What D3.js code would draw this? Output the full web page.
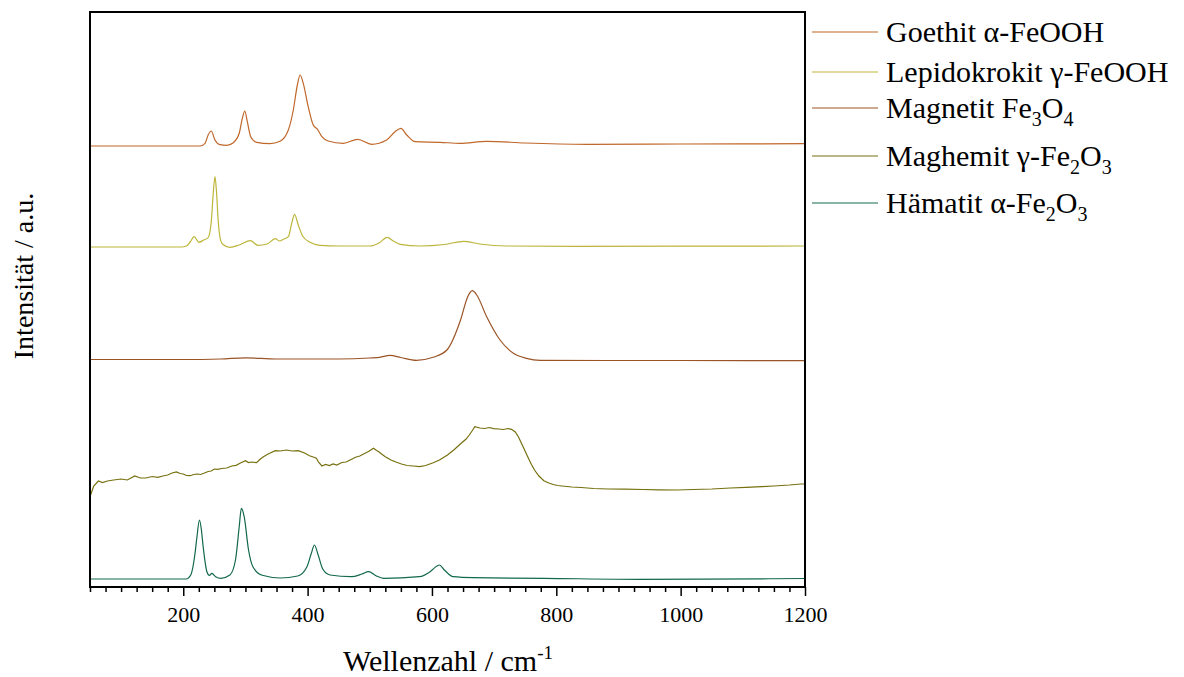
<!DOCTYPE html>
<html>
<head>
<meta charset="utf-8">
<script src="https://cdn.jsdelivr.net/npm/d3@7"></script>
<style>
  body { margin:0; background:#fff; }
  svg, svg text { font-family:"Liberation Serif","Tinos","DejaVu Serif",serif !important; fill:#000; }
</style>
</head>
<body>
<svg id="chart" width="1184" height="677" font-family="Liberation Serif, Tinos, DejaVu Serif, serif"></svg>
<script>
// wavenumber (cm-1), intensity (a.u., stacked offsets as in the plot)
var goethit=[[50,441],[227,441],[235,443.7],[240,452],[245,456],[251,447],[259,442.3],[270,441.7],[280.5,444.3],[290,453.7],[295,468.7],[299,476],[303,465.3],[308.5,450.3],[318,444.7],[339.5,443.3],[355.6,445.7],[369,457],[377,477],[383.5,502],[388,512],[393,503.7],[401,480.3],[409,462],[416,457.7],[423,450.3],[433,446],[457.5,443.7],[480.6,447.7],[503,442.7],[527,447],[540.6,455.3],[550,458.7],[559.5,452],[573,445.3],[613,444.7],[645,443.7],[688,445.7],[750,444],[849,442.7],[1000,443],[1200,443.3]]
var lepidokrokit=[[50,340],[197,340],[205,341],[211,345],[217.6,350.3],[225,344.7],[233,347],[240,349.3],[245,365],[248,392],[251,410.3],[253.5,395],[256,368],[259,350],[263,343],[275,339.7],[290,342],[308,346.3],[320,341.7],[335,343],[348,348.3],[355,346],[361,347.7],[369,350.3],[374.4,363.7],[379,372.7],[385,362],[392,351],[404,344.7],[420,341.7],[450,341],[500,341],[515,344],[528,349.7],[538,346],[549,342.7],[580,341],[620,342.5],[651,345.7],[677,343],[720,341],[838,340.7],[1000,340.8],[1200,341]]
var magnetit=[[50,227.5],[200,227.5],[260,228],[300,229.2],[350,228],[450,228],[500,229],[516,229.7],[532.5,231.7],[550,229.5],[575,226.7],[602,229.7],[624,237],[646,267],[657.5,290.3],[665,296.3],[672,292],[688,270.3],[709.5,247],[731,233.7],[752,228.7],[774,226.7],[900,226.5],[1000,226.5],[1200,226.3]]
var maghemit=[[50,90.3],[56,101],[63.5,106],[70,104.5],[78,106],[88,107],[100,108],[110,107],[122,111],[131,109],[140,109],[150,110.5],[159,109.7],[167,111],[175,112],[182,114],[189,115],[195,113.5],[200,113],[205,111.5],[211,111.3],[217,112.5],[222,113],[228,112.5],[233,113.7],[240,115.5],[245,116],[250,118],[255,117.7],[262,118.5],[270,119],[278,121],[285,121.7],[292,124],[300,126.3],[305,124.5],[310,125],[318,124.3],[324,128],[329,130.3],[335,132.5],[340,134],[348,136.3],[356,136],[366,137],[375,136],[385,136.3],[395,134],[403,131.3],[409,130],[414,128.7],[418,124.5],[423,121],[429,122.5],[435,121.5],[441,123],[447,122],[455,124.5],[462,125],[470,127.5],[477,129.7],[484,131],[490,133],[498,135.5],[506,138.7],[511,136.5],[515,135],[520,132.5],[525,130.3],[534,127],[543,124.7],[551,123],[560,121.5],[570,121],[580,120.3],[590,121.5],[602,124.3],[612,127],[625,132],[636,137.5],[647,143.7],[655,148],[660,152],[665,156.5],[669,160.3],[677,159],[685,158.5],[692,159.5],[699,158.3],[707,158],[715,157.5],[722,158.5],[728,157.7],[734,155],[739,150.3],[746,141],[754,130.3],[760,122.5],[765,117],[772,111],[780,106.3],[788,104],[795,102.5],[802,101.5],[809,101],[825,100],[840,99.5],[860,98.5],[883,98],[910,97.8],[940,97.5],[965,97.2],[994,97],[1020,97.5],[1050,98],[1080,99],[1105,99.7],[1130,100.3],[1150,101],[1175,102],[1193,103],[1200,103]]
var haematit=[[50,8],[204.5,8],[212,12],[219,34],[222,50],[226,67],[229,58],[232,40.3],[238,15.3],[242,11.7],[246,13.7],[252,10.3],[260.5,8.7],[275,12],[284,27],[290,60.3],[293.5,78.7],[298,70.3],[305,37],[312,20.3],[327,11.7],[356,9],[384,11],[399,20.3],[406,33.7],[411,42],[417,32],[424.6,17.7],[436,12],[470.5,10.3],[487.5,13],[498,15.3],[510.7,11],[522,8.7],[579.7,10.3],[597,15.3],[608,21],[612,22],[620,17],[634,10.3],[666,9.3],[780,8.7],[935,7.7],[1200,8.5]]

var seriesNames=["Goethit α-FeOOH","Lepidokrokit γ-FeOOH","Magnetit Fe_3O_4","Maghemit γ-Fe_2O_3","Hämatit α-Fe_2O_3"]
var seriesData=[goethit,lepidokrokit,magnetit,maghemit,haematit]
var seriesColors=["#c0672a","#bdb53a","#9b5426","#76700e","#12684c"]
var majorTicks=[200,400,600,800,1000,1200]

var FONT='"Liberation Serif", Tinos, "DejaVu Serif", serif'
var svg=d3.select("#chart")
var margin={left:90,right:379,top:12,bottom:90}
var W=1184,H=677
var x=d3.scaleLinear().domain([50,1200]).range([margin.left,W-margin.right])
var y=d3.scaleLinear().domain([0,575]).range([H-margin.bottom,margin.top])

// minor ticks every 25
var minor=d3.range(50,1201,25).filter(d=>d%200!=0)
svg.append('g')
    .attr('transform',`translate(0,${H-margin.bottom})`)
    .call(d3.axisBottom(x).tickValues(minor).tickSize(5).tickFormat(''))
    .call(g=>g.select('.domain').remove())
    .selectAll('line').attr('stroke','#000').attr('stroke-width',1.5)

var xAxis=svg.append('g')
    .attr('transform',`translate(0,${H-margin.bottom})`)
    .call(d3.axisBottom(x).tickValues(majorTicks).tickSize(9).tickPadding(10).tickSizeOuter(0).tickFormat(d3.format('d')))
xAxis.attr('font-family',FONT).attr('font-size',22)
xAxis.select('.domain').remove()
xAxis.selectAll('line').attr('stroke','#000').attr('stroke-width',1.5)
xAxis.selectAll('text').style('font-family',FONT).attr('font-size',22).attr('fill','#000')

var line=d3.line().x(d=>x(d[0])).y(d=>y(d[1]))
svg.append('g').selectAll('path')
    .data(seriesData)
    .join('path')
    .attr('d',(d,i)=>line.curve(i==3?d3.curveLinear:d3.curveMonotoneX)(d))
    .attr('fill','none')
    .attr('stroke',(d,i)=>seriesColors[i])
    .attr('stroke-width',1.2)

// frame
svg.append('rect')
    .attr('x',margin.left).attr('y',margin.top)
    .attr('width',W-margin.right-margin.left)
    .attr('height',H-margin.bottom-margin.top)
    .attr('fill','none').attr('stroke','#000').attr('stroke-width',2)

// axis titles
svg.append('text')
    .attr('transform','translate(33,276) rotate(-90)')
    .attr('text-anchor','middle')
    .style('font-family',FONT)
    .attr('font-size',28)
    .text('Intensität / a.u.')
var xt=svg.append('text')
    .attr('x',448).attr('y',671)
    .attr('text-anchor','middle')
    .style('font-family',FONT)
    .attr('font-size',30)
xt.append('tspan').text('Wellenzahl / cm')
xt.append('tspan').attr('dy',-12).attr('font-size',19).text('-1')

// legend
var legendY=[32,72,108,156,203]
var lg=svg.append('g')
seriesNames.forEach((name,i)=>{
    lg.append('line')
        .attr('x1',812).attr('x2',878)
        .attr('y1',legendY[i]).attr('y2',legendY[i])
        .attr('stroke',seriesColors[i]).attr('stroke-width',1.2)
    var t=lg.append('text').attr('x',886).attr('y',legendY[i]+10).style('font-family',FONT).attr('font-size',30)
    var parts=name.split(/_(\d)/)
    parts.forEach((p,j)=>{
        if(j%2==1) t.append('tspan').attr('dy',8).attr('font-size',20).text(p)
        else if(p.length){
            var s=t.append('tspan').text(p)
            if(j>0) s.attr('dy',-8)
        }
    })
})
</script>
</body>
</html>
